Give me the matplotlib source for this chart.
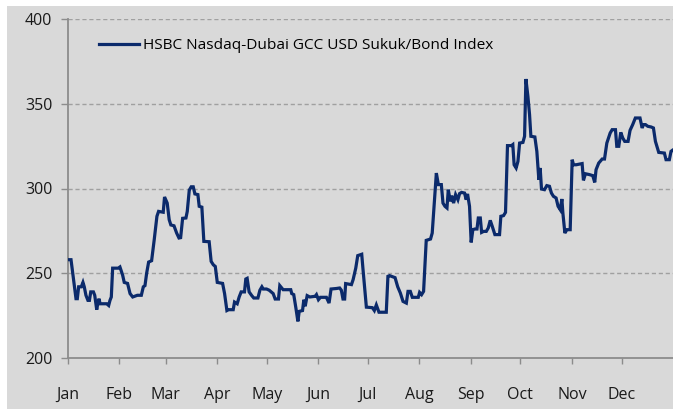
import matplotlib
matplotlib.use("Agg")
import matplotlib.pyplot as plt
from matplotlib.patches import Rectangle

series_name = "HSBC Nasdaq-Dubai GCC USD Sukuk/Bond Index"
month_labels = ["Jan", "Feb", "Mar", "Apr", "May", "Jun",
                "Jul", "Aug", "Sep", "Oct", "Nov", "Dec"]
month_starts = [0, 31, 59, 90, 120, 151, 181, 212, 243, 273, 304, 334]

days = [0, 2.0, 5.0, 5.8, 6.6, 8.2, 9.2, 10.0, 11.0, 12.2, 13.1, 13.9, 15.5, 16.3,
        17.5, 18.3, 18.9, 19.5, 20.7, 23.5, 24.7, 25.5, 26.3, 27.1, 30.5, 31.5,
        33.1, 34.1, 36.1, 37.6, 39.2, 42.0, 44.4, 45.6, 46.6, 47.6, 48.8, 50.6,
        52.2, 53.8, 54.8, 57.6, 58.4, 60.0, 61.2, 62.2, 64.1, 65.7, 67.1, 68.1,
        69.3, 71.3, 72.1, 73.3, 74.5, 75.7, 76.7, 78.5, 79.3, 80.9, 82.1, 85.3,
        86.5, 87.8, 89.0, 90.2, 93.4, 94.6, 96.0, 97.0, 99.8, 100.6, 102.2, 103.4,
        104.6, 106.6, 107.4, 108.2, 109.4, 111.0, 112.2, 114.7, 115.9, 117.1,
        117.9, 119.9, 121.5, 123.9, 125.1, 127.1, 127.9, 129.1, 129.9, 134.5,
        135.1, 136.3, 137.6, 138.8, 139.6, 141.6, 142.4, 143.2, 144.4, 146.0,
        149.2, 150.0, 151.2, 152.4, 156.0, 157.6, 158.8, 162.0,
        164.0, 165.0, 166.0, 167.0, 167.6, 171.1, 172.1, 173.7, 174.9, 177.3,
        178.1, 180.1, 183.7, 184.9, 186.1, 187.7, 192.1, 193.1, 194.1, 197.4,
        199.0, 200.6, 202.2, 204.2, 205.2, 206.6, 207.8, 211.4, 212.2, 213.4,
        214.6, 216.2, 218.8, 219.8, 220.9, 222.3, 223.5, 225.3, 226.3, 227.5,
        228.7, 229.5, 230.7, 231.5, 232.7, 233.9, 235.3, 236.3, 237.5, 239.3,
        240.3, 241.1, 242.3, 243.3, 244.3, 245.5, 246.8, 247.6, 248.8, 249.6,
        250.8, 252.4, 253.6, 254.8, 256.0, 257.6, 260.4, 261.2, 262.8, 264.0,
        265.2, 267.6, 268.4, 269.2, 270.4, 271.5, 272.5, 274.5, 275.5, 276.3,
        277.5, 278.5, 279.3, 281.7, 282.9, 284.1, 284.9, 285.7, 287.5, 288.9,
        290.5, 291.7, 292.9, 294.5, 295.7, 297.0, 298.0, 298.6, 299.8, 301.0,
        303.0, 304.2, 305.0, 306.6, 310.2, 311.0, 312.2, 314.6, 316.6, 317.8,
        318.6, 320.2, 322.3, 323.7, 325.1, 327.1, 328.3, 330.3, 331.1, 332.3,
        333.5, 334.7, 335.9, 337.9, 339.1, 340.7, 342.3, 345.1, 346.4, 347.2,
        348.4, 349.8, 351.8, 353.2, 354.4, 356.4, 359.8, 360.8, 362.8, 363.8,
        364.6]

values = [258, 258, 235, 235, 242, 242, 244.6, 242, 237, 234, 234, 239, 239, 237,
          228.5, 233, 235, 232, 232, 232, 231, 234, 236, 253, 253, 253.7,
          249, 244.6, 244, 238, 236, 237, 237, 242, 242.7, 250, 256.6, 257.4,
          270, 283.6, 286.5, 286, 295, 291.4, 281.6, 278.5, 278, 273.7, 270.8, 271,
          282.4, 282.6, 286.5, 299, 301, 301, 296.8, 296.4, 289.5, 289, 268.8, 268.6,
          257, 255, 254, 244.6, 244, 238, 228, 228.5, 228.5, 233, 232, 236,
          239, 239, 246.6, 247, 239, 236.8, 235.4, 235.4, 240, 242,
          240.7, 240.7, 240, 238, 234.8, 234.8, 242.7, 241.3, 240.3, 240.3,
          238, 237.4, 229.5, 221.6, 227.5, 228, 234.4, 230.5, 236.8, 236,
          236.4, 237.4, 234.4, 235.8, 235.8, 232.4, 240.7, 241,
          241.3, 240, 234.8, 234.8, 243.9, 243.3, 246.2, 253, 260.4, 261.2,
          252, 230, 229.7, 228, 231.3, 227, 227, 248.2, 248.6, 247.4,
          242, 238.3, 233.4, 232.4, 239.3, 239.3, 235.8, 235.8, 238.7, 237.4,
          239.3, 269.4, 270.2, 273.7, 289.5, 309.1, 302.3, 302.3, 291.4, 289.5,
          288.5, 299.3, 292.4, 295.8, 291.4, 296.4, 293.4, 297, 297.7, 297.3,
          293.4, 296.8, 289.5, 268.2, 275.7, 276.1, 276.1, 282.6, 282.6, 274.1,
          274.7, 274.7, 276.7, 281.2, 277.7, 272.8, 272.8, 283.6, 284, 285.9,
          325.3, 325.3, 325.9, 314, 312.1, 316, 326.8, 327.2, 330.8, 364.6,
          354.4, 343.6, 330.8, 330.4, 321.9, 305.2, 312.1, 299.7, 299.3, 301.7,
          301.3, 297.3, 295.4, 294.4, 289.5, 287.5, 293.8, 285.5, 273.7, 275.7,
          275.7, 317, 314, 314, 314.7, 304.8, 308.7, 308.2, 307.6, 303.6,
          311.1, 315, 317.4, 317.4, 326.8, 332.7, 334.7, 334.7, 324.9, 324.9,
          333.1, 329.8, 327.8, 327.8, 334.3, 337.7, 341.6, 341.6, 335.7, 337.7,
          337.7, 336.7, 336.3, 335.7, 327.8, 321.3, 320.9, 317, 317, 321.9,
          322.5]

y_ticks = [200, 250, 300, 350, 400]

plt.rcParams['font.family'] = ['Open Sans', 'DejaVu Sans']

W, H = 673, 409
fig = plt.figure(figsize=(W / 100, H / 100), dpi=100)
fig.patch.set_facecolor("white")
bg = "#D9D9D9"
fig.add_artist(Rectangle((7 / W, 0), 1 - 7 / W, 1 - 6 / H, transform=fig.transFigure,
                         facecolor=bg, edgecolor="none", zorder=0))

left, right = 67.7 / W, 1.0
bottom, top = 1 - 358 / H, 1 - 19 / H
ax = fig.add_axes([left, bottom, right - left, top - bottom])
ax.set_facecolor("none")

ax.plot(days, values, color="#0B2A6B", lw=2.3, solid_joinstyle="miter",
        label=series_name, zorder=3)

ax.set_xlim(0, 365)
ax.set_ylim(200, 400)
ax.set_yticks(y_ticks)
ax.set_xticks(month_starts)
ax.set_xticklabels(month_labels)

for v in y_ticks[1:]:
    ax.axhline(v, color="#A0A0A0", lw=1.0, ls=(0, (3, 2)), zorder=1)

for s in ["top", "right"]:
    ax.spines[s].set_visible(False)
for s in ["left", "bottom"]:
    ax.spines[s].set_color("#8C8C8C")
    ax.spines[s].set_linewidth(1.3)

ax.tick_params(axis="x", direction="out", length=4, width=1, color="#8C8C8C",
               pad=17, labelsize=11.5, labelcolor="#1A1A1A")
ax.tick_params(axis="y", direction="out", length=5, width=1, color="#8C8C8C",
               pad=6, labelsize=11.5, labelcolor="#1A1A1A")

leg = ax.legend(loc="upper left", bbox_to_anchor=(25 / (W * (right - left)), 0.962),
                frameon=False, fontsize=11.1, handlelength=2.6, handletextpad=0.25,
                borderaxespad=0)

fig.savefig("out.png", dpi=100, facecolor=fig.get_facecolor())
